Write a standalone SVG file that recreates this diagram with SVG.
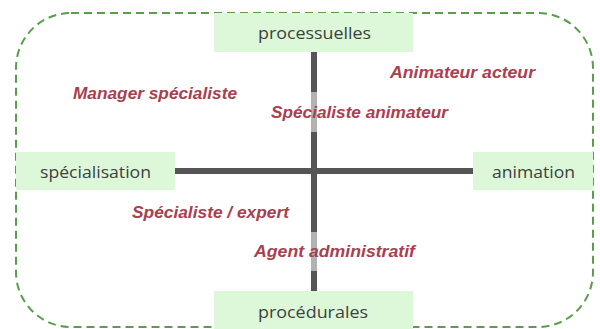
<svg xmlns="http://www.w3.org/2000/svg" width="600" height="329" viewBox="0 0 600 329">
<style>
.box{fill:#dcf8d9}
.bt{font-family:"Open Sans","Liberation Sans",sans-serif;font-size:17px;fill:#404040}
.lab{font-family:"Liberation Sans",sans-serif;font-size:17px;font-weight:bold;font-style:italic;fill:#a8404f}
.lbg{fill:#ffffff;opacity:0.55}
.axis{stroke:#555555;stroke-width:6;fill:none}
</style>
<rect x="0" y="0" width="600" height="329" fill="#ffffff"/>
<rect x="16" y="13" width="577" height="314" rx="55" ry="55" fill="none" stroke="#5a9e4c" stroke-width="2" stroke-dasharray="8 5"/>
<g id="connectors">
<line class="axis" x1="314" y1="52" x2="314" y2="291"/>
<line class="axis" x1="175" y1="171" x2="473" y2="171"/>
</g>
<g id="processuelles"><rect class="box" x="214" y="13" width="199" height="39"/><text class="bt" x="258" y="39" textLength="113" lengthAdjust="spacingAndGlyphs">processuelles</text></g>
<g id="specialisation"><rect class="box" x="16" y="152" width="159" height="38"/><text class="bt" x="40" y="178" textLength="111" lengthAdjust="spacingAndGlyphs">spécialisation</text></g>
<g id="animation"><rect class="box" x="473" y="152" width="120" height="38"/><text class="bt" x="492" y="178" textLength="83" lengthAdjust="spacingAndGlyphs">animation</text></g>
<g id="procedurales"><rect class="box" x="214" y="291" width="199" height="38"/><text class="bt" x="258" y="318" textLength="110" lengthAdjust="spacingAndGlyphs">procédurales</text></g>
<g id="manager"><text class="lab" x="73" y="99" textLength="164" lengthAdjust="spacingAndGlyphs">Manager spécialiste</text></g>
<g id="animateur-acteur"><text class="lab" x="390" y="78" textLength="145" lengthAdjust="spacingAndGlyphs">Animateur acteur</text></g>
<g id="specialiste-animateur"><rect class="lbg" x="266" y="92" width="187" height="40"/><text class="lab" x="271" y="118" textLength="177" lengthAdjust="spacingAndGlyphs">Spécialiste animateur</text></g>
<g id="specialiste-expert"><text class="lab" x="132" y="218" textLength="157" lengthAdjust="spacingAndGlyphs">Spécialiste / expert</text></g>
<g id="agent"><rect class="lbg" x="249" y="232" width="171" height="39"/><text class="lab" x="254" y="257" textLength="161" lengthAdjust="spacingAndGlyphs">Agent administratif</text></g>
</svg>
